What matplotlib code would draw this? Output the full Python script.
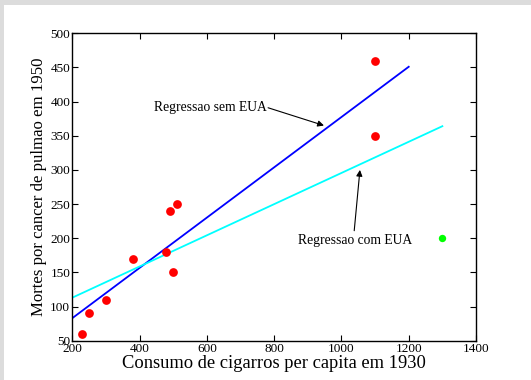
import numpy as np
import matplotlib
matplotlib.use("Agg")
import matplotlib.pyplot as plt
from matplotlib.patches import Rectangle

# countries without the USA
cig_x = [230, 250, 300, 380, 480, 490, 500, 510, 1100, 1100]
deaths_y = [60, 90, 110, 170, 180, 240, 150, 250, 460, 350]
# the USA
usa_x = [1300]
usa_y = [200]

# regression lines
sem_x = [200, 1200]
sem_y = [83, 451]
com_x = [200, 1300]
com_y = [113, 364]

x_ticks = [200, 400, 600, 800, 1000, 1200, 1400]
y_ticks = [50, 100, 150, 200, 250, 300, 350, 400, 450, 500]

# annotations: text position, arrow tail, arrow tip
sem_label = "Regressao sem EUA"
sem_text_xy = (443, 391)
sem_tail = (782, 391)
sem_tip = (948, 365)
com_label = "Regressao com EUA"
com_text_xy = (871, 197)
com_tail = (1038, 211)
com_tip = (1055, 300)

plt.rcParams['font.family'] = ['Liberation Serif', 'DejaVu Serif']

fig = plt.figure(figsize=(5.31, 3.80), dpi=100)
fig.patch.set_facecolor('white')
# light gray frame on top and left
fig.patches.append(Rectangle((0, 1 - 5 / 380), 1, 5 / 380, transform=fig.transFigure,
                             facecolor='#dcdcdc', edgecolor='none', zorder=0))
fig.patches.append(Rectangle((0, 0), 4 / 531, 1, transform=fig.transFigure,
                             facecolor='#dcdcdc', edgecolor='none', zorder=0))

ax = fig.add_axes([72.3 / 531, 39.3 / 380, (476 - 72.3) / 531, (340.7 - 33.3) / 380])

ax.plot(sem_x, sem_y, color='#0000ff', lw=1.3, zorder=2)
ax.plot(com_x, com_y, color='#00ffff', lw=1.3, zorder=2)
ax.plot(cig_x, deaths_y, 'o', color='#ff0000', ms=6.3, mec='none', zorder=3)
ax.plot(usa_x, usa_y, 'o', color='#00ff00', ms=5.3, mec='none', zorder=3)

ax.text(sem_text_xy[0], sem_text_xy[1], sem_label, fontsize=9.8, ha='left', va='center')
ax.annotate('', xy=sem_tip, xytext=sem_tail,
            arrowprops=dict(arrowstyle='-|>', color='black', lw=0.8, mutation_scale=9,
                            shrinkA=0, shrinkB=0))
ax.text(com_text_xy[0], com_text_xy[1], com_label, fontsize=9.8, ha='left', va='center')
ax.annotate('', xy=com_tip, xytext=com_tail,
            arrowprops=dict(arrowstyle='-|>', color='black', lw=0.8, mutation_scale=9,
                            shrinkA=0, shrinkB=0))

ax.set_xlim(200, 1400)
ax.set_ylim(50, 500)
ax.set_xticks(x_ticks)
ax.set_yticks(y_ticks)
ax.tick_params(direction='in', top=True, right=True, length=4, width=0.8,
               labelsize=9.5, pad=1.5)
for s in ax.spines.values():
    s.set_linewidth(1.0)

ax.set_xlabel("Consumo de cigarros per capita em 1930", fontsize=13.3, labelpad=0)
ax.set_ylabel("Mortes por cancer de pulmao em 1950", fontsize=12.1, labelpad=2)

fig.savefig("out.png", dpi=100, facecolor='white')
